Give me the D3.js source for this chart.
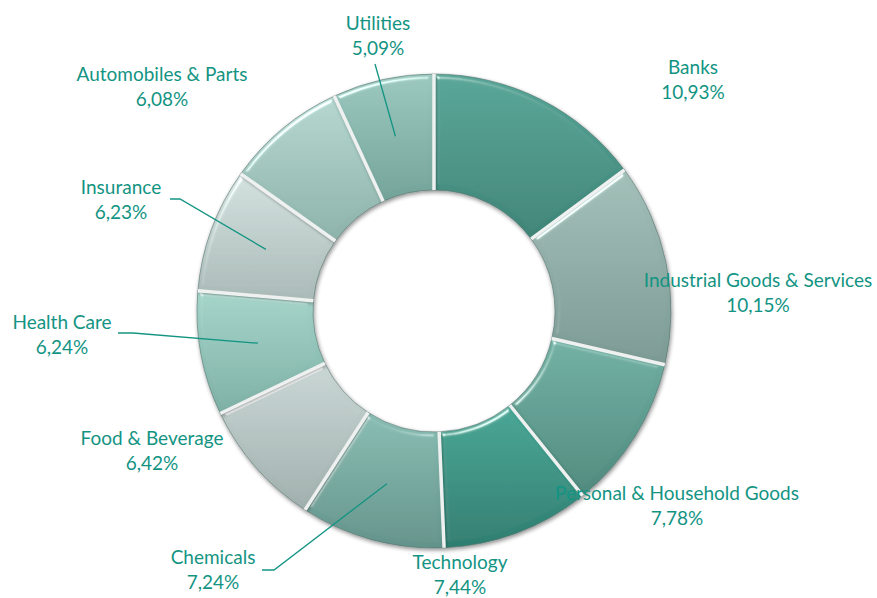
<!DOCTYPE html>
<html><head><meta charset="utf-8">
<script src="https://cdn.jsdelivr.net/npm/d3@7"></script>
<style>html,body{margin:0;padding:0;background:#fff;}svg{display:block;}</style>
</head><body>
<svg id="chart" width="877" height="598"></svg>
<script>
// ---- data ----
const categories = ["Banks","Industrial Goods & Services","Personal & Household Goods","Technology","Chemicals","Food & Beverage","Health Care","Insurance","Automobiles & Parts","Utilities"];
const values = [10.93,10.15,7.78,7.44,7.24,6.42,6.24,6.23,6.08,5.09];
const valueLabels = ["10,93%","10,15%","7,78%","7,44%","7,24%","6,42%","6,24%","6,23%","6,08%","5,09%"];
// ---- styles ----
const colorsTop =    ["#56a597","#a2bfb8","#70b0a3","#45a594","#88bcb2","#c9d6d4","#a4d4c9","#d3e1de","#b4d6cf","#9ac7be"];
const colorsBottom = ["#3e8477","#7b9a93","#4f897d","#2e7e70","#63938a","#9fafac","#7dafa4","#a8b9b6","#8cb2a9","#72a298"];
// label layout (text block centre x, first-line baseline y) and leader line start
const labelLayout = [
  {x:693,y:74},{x:758,y:287},{x:677,y:500},{x:460,y:569},{x:213,y:564},
  {x:152,y:445},{x:62,y:329},{x:121,y:194},{x:162,y:81},{x:378,y:30}
];
const leaders = [null,null,null,null,[[262,570],[274,570]],null,[[118,333],[133,333]],[[170,199],[180,199]],null,[[375,64]]];

const svg = d3.select("#chart");
const cx=434, cy=311, R=237, r=121;
const defs = svg.append("defs");

categories.forEach((c,i)=>{
  const g = defs.append("linearGradient").attr("id","g"+i).attr("x1",0).attr("y1",0).attr("x2",0).attr("y2",1);
  g.append("stop").attr("offset","0%").attr("stop-color",colorsTop[i]);
  g.append("stop").attr("offset","100%").attr("stop-color",colorsBottom[i]);
});

const f = defs.append("filter").attr("id","bevel").attr("x","-10%").attr("y","-10%").attr("width","120%").attr("height","120%");
f.append("feGaussianBlur").attr("in","SourceAlpha").attr("stdDeviation",2.5).attr("result","blur");
const spec = f.append("feSpecularLighting").attr("in","blur").attr("surfaceScale",4).attr("specularConstant",0.9)
  .attr("specularExponent",35).attr("lighting-color","#ffffff").attr("result","spec");
spec.append("feDistantLight").attr("azimuth",240).attr("elevation",35);
f.append("feComposite").attr("in","spec").attr("in2","SourceAlpha").attr("operator","in").attr("result","specOut");
f.append("feComposite").attr("in","SourceGraphic").attr("in2","specOut").attr("operator","arithmetic")
  .attr("k1",0).attr("k2",1).attr("k3",0.8).attr("k4",0).attr("result","lit");
f.append("feGaussianBlur").attr("in","SourceAlpha").attr("stdDeviation",2).attr("result","sb");
f.append("feOffset").attr("in","sb").attr("dx",1).attr("dy",2).attr("result","so");
f.append("feComponentTransfer").attr("in","so").attr("result","sh").append("feFuncA").attr("type","linear").attr("slope",0.45);
const m = f.append("feMerge");
m.append("feMergeNode").attr("in","sh");
m.append("feMergeNode").attr("in","lit");

const pie = d3.pie().sort(null).value(d=>d).startAngle(0).endAngle(2*Math.PI);
const arcs = pie(values);
const arc = d3.arc().innerRadius(r).outerRadius(R);

const gPie = svg.append("g").attr("transform",`translate(${cx},${cy})`);
gPie.selectAll("path.slice").data(arcs).join("path")
  .attr("class","slice")
  .attr("d",arc)
  .attr("fill",(d,i)=>`url(#g${i})`)
  .attr("stroke","#4f6e68").attr("stroke-opacity",0.55).attr("stroke-width",1)
  .attr("filter","url(#bevel)");
// gaps between slices
gPie.selectAll("path.gap").data(arcs).join("path")
  .attr("class","gap")
  .attr("d",d=>{
    const a=d.startAngle;
    return `M${r*Math.sin(a)},${-r*Math.cos(a)}L${R*Math.sin(a)},${-R*Math.cos(a)}`;
  })
  .attr("stroke","#eef1f0").attr("stroke-width",3.5);

const textColor = "#139483";
// leader lines to slice centroids
arcs.forEach((d,i)=>{
  if(!leaders[i]) return;
  const c = arc.centroid(d);
  const pts = leaders[i].concat([[cx+c[0],cy+c[1]]]);
  svg.append("path").attr("d",d3.line()(pts)).attr("fill","none").attr("stroke",textColor).attr("stroke-width",1.3);
});
// labels
const fontFam = "Lato, 'Open Sans', sans-serif";
categories.forEach((c,i)=>{
  const t = svg.append("text").attr("text-anchor","middle").attr("fill",textColor)
    .attr("font-family",fontFam).attr("font-size",19);
  t.append("tspan").attr("x",labelLayout[i].x).attr("y",labelLayout[i].y).text(c);
  t.append("tspan").attr("x",labelLayout[i].x).attr("y",labelLayout[i].y+25).text(valueLabels[i]);
});
</script>
</body></html>
